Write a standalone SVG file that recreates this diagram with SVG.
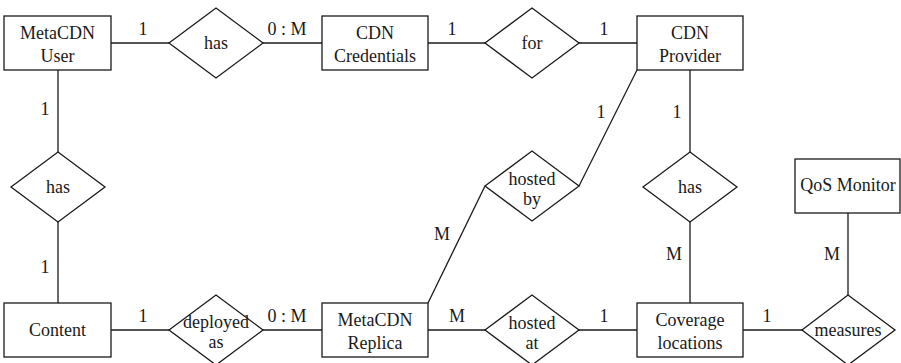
<svg xmlns="http://www.w3.org/2000/svg" width="901" height="363" viewBox="0 0 901 363">
<style>
  .ent, .rel { fill: #fff; stroke: #1a1a1a; stroke-width: 1.3; }
  .c line { stroke: #1a1a1a; stroke-width: 1.3; }
  text { font-family: 'Liberation Serif', 'DejaVu Serif', 'Times New Roman', serif; font-size: 18px; fill: #1a1a1a; text-anchor: middle; }
</style>
<rect width="901" height="363" fill="#fff"/>
<g class="c" id="connectors">
  <line x1="111" y1="43" x2="169" y2="43"/>
  <line x1="263" y1="43" x2="322" y2="43"/>
  <line x1="428" y1="43" x2="485" y2="43"/>
  <line x1="579" y1="43" x2="637" y2="43"/>
  <line x1="58" y1="70" x2="58" y2="152"/>
  <line x1="58" y1="222" x2="58" y2="303"/>
  <line x1="111" y1="330" x2="169" y2="330"/>
  <line x1="263" y1="330" x2="322" y2="330"/>
  <line x1="428" y1="330" x2="485" y2="330"/>
  <line x1="579" y1="330" x2="637" y2="330"/>
  <line x1="743" y1="330" x2="802" y2="330"/>
  <line x1="637" y1="70" x2="579" y2="186"/>
  <line x1="485" y1="186" x2="428" y2="303"/>
  <line x1="690" y1="70" x2="690" y2="152"/>
  <line x1="690" y1="222" x2="690" y2="303"/>
  <line x1="848" y1="213" x2="848" y2="295"/>
  <text x="143" y="35">1</text>
  <text x="287" y="35">0 : M</text>
  <text x="452" y="35">1</text>
  <text x="604" y="35">1</text>
  <text x="45" y="115">1</text>
  <text x="45" y="273">1</text>
  <text x="601" y="118">1</text>
  <text x="677" y="118">1</text>
  <text x="442" y="240">M</text>
  <text x="674" y="260">M</text>
  <text x="832" y="260">M</text>
  <text x="143" y="322">1</text>
  <text x="287" y="322">0 : M</text>
  <text x="457" y="322">M</text>
  <text x="604" y="322">1</text>
  <text x="767" y="322">1</text>
</g>
<g id="metacdn-user"><rect class="ent" x="4" y="16" width="107" height="54"/><text x="57.5" y="39">MetaCDN</text><text x="57.5" y="62">User</text></g>
<g id="rel-has-credentials"><polygon class="rel" points="169,43 216,8 263,43 216,78"/><text x="216" y="49">has</text></g>
<g id="cdn-credentials"><rect class="ent" x="322" y="16" width="106" height="54"/><text x="375" y="39">CDN</text><text x="375" y="62">Credentials</text></g>
<g id="rel-for"><polygon class="rel" points="485,43 532,8 579,43 532,78"/><text x="532" y="49">for</text></g>
<g id="cdn-provider"><rect class="ent" x="637" y="16" width="106" height="54"/><text x="690" y="39">CDN</text><text x="690" y="62">Provider</text></g>
<g id="rel-has-content"><polygon class="rel" points="11,187 58,152 105,187 58,222"/><text x="58" y="193">has</text></g>
<g id="rel-hosted-by"><polygon class="rel" points="485,186 532,151 579,186 532,221"/><text x="532" y="185">hosted</text><text x="532" y="205">by</text></g>
<g id="rel-has-locations"><polygon class="rel" points="643,187 690,152 737,187 690,222"/><text x="690" y="193">has</text></g>
<g id="qos-monitor"><rect class="ent" x="795" y="159" width="105" height="54"/><text x="848" y="191">QoS Monitor</text></g>
<g id="content"><rect class="ent" x="4" y="303" width="107" height="54"/><text x="57.5" y="336">Content</text></g>
<g id="rel-deployed-as"><polygon class="rel" points="169,330 216,295 263,330 216,365"/><text x="216" y="328">deployed</text><text x="216" y="348">as</text></g>
<g id="metacdn-replica"><rect class="ent" x="322" y="303" width="106" height="54"/><text x="375" y="326">MetaCDN</text><text x="375" y="349">Replica</text></g>
<g id="rel-hosted-at"><polygon class="rel" points="485,330 532,295 579,330 532,365"/><text x="532" y="329">hosted</text><text x="532" y="349">at</text></g>
<g id="coverage-locations"><rect class="ent" x="637" y="303" width="106" height="54"/><text x="690" y="326">Coverage</text><text x="690" y="349">locations</text></g>
<g id="rel-measures"><polygon class="rel" points="802,330 848,295 895,330 848,365"/><text x="848" y="336">measures</text></g>
</svg>
